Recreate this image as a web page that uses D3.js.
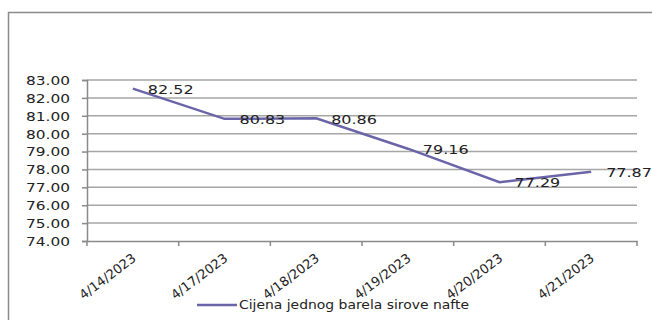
<!DOCTYPE html>
<html>
<head>
<meta charset="utf-8">
<script src="https://cdn.jsdelivr.net/npm/d3@7"></script>
<style>
  body { margin: 0; background: #fff; }
  text { font-family: "DejaVu Sans", sans-serif; fill: #222; }
</style>
</head>
<body>
<div id="chart"></div>
<script>
// data
const dates = ["4/14/2023", "4/17/2023", "4/18/2023", "4/19/2023", "4/20/2023", "4/21/2023"];
const prices = [82.52, 80.83, 80.86, 79.16, 77.29, 77.87];
const yTicks = [74, 75, 76, 77, 78, 79, 80, 81, 82, 83];
const seriesName = "Cijena jednog barela sirove nafte";

const width = 652, height = 320;
const margin = {top: 80, right: 15, bottom: 79, left: 87};
const lineColor = "#6a65a8";
const stretch = 1.28; // the source picture is widened a bit

const svg = d3.select("#chart").append("svg")
    .attr("width", width)
    .attr("height", height);

// outer frame (runs off the right and bottom)
svg.append("rect")
    .attr("x", 8.5).attr("y", 12.5)
    .attr("width", 700).attr("height", 400)
    .attr("fill", "none")
    .attr("stroke", "#8a8a8a")
    .attr("stroke-width", 1.5);

const w = width - margin.left - margin.right,
      h = height - margin.top - margin.bottom;

const g = svg.append("g")
    .attr("transform", `translate(${margin.left},${margin.top})`);

//scales
const x = d3.scaleBand().domain(dates).range([0, w]);
const y = d3.scaleLinear().domain([74, 83]).range([h, 0]);

//gridlines
g.selectAll(".grid")
    .data(yTicks.slice(1))
    .enter()
    .append("line")
    .attr("class", "grid")
    .attr("x1", 0).attr("x2", w)
    .attr("y1", d => y(d)).attr("y2", d => y(d))
    .attr("stroke", "#a6a6a6")
    .attr("stroke-width", 1.5);

// y axis
const yAxis = g.append("g")
    .call(d3.axisLeft(y).tickValues(yTicks).tickSize(5).tickFormat(d3.format(".2f")));
yAxis.select(".domain").attr("stroke", "#8a8a8a").attr("stroke-width", 1.5);
yAxis.selectAll(".tick line").attr("stroke", "#8a8a8a").attr("stroke-width", 1.5);
yAxis.selectAll(".tick text")
    .attr("x", null).attr("dy", null)
    .attr("text-anchor", "end")
    .attr("dominant-baseline", "central")
    .style("font-size", "12px")
    .attr("transform", `translate(-17,0) scale(${stretch},1)`);

// x axis, ticks between categories
const xAxis = g.append("g")
    .attr("transform", `translate(0,${h})`)
    .call(d3.axisBottom(x).tickSize(0).tickFormat(""));
xAxis.select(".domain").attr("stroke", "#8a8a8a").attr("stroke-width", 1.5);

g.selectAll(".xtick")
    .data(dates.concat(["end"]))
    .enter()
    .append("line")
    .attr("class", "xtick")
    .attr("x1", (d, i) => i * x.step()).attr("x2", (d, i) => i * x.step())
    .attr("y1", h).attr("y2", h + 5)
    .attr("stroke", "#8a8a8a")
    .attr("stroke-width", 1.5);

g.selectAll(".xlabel")
    .data(dates)
    .enter()
    .append("text")
    .attr("class", "xlabel")
    .attr("text-anchor", "end")
    .style("font-size", "13px")
    .attr("transform", d => `translate(${x(d) + x.bandwidth() / 2 + 4},${h + 19}) rotate(-37)`)
    .text(d => d);

// line
const cx = (d, i) => x(dates[i]) + x.bandwidth() / 2;
const line = d3.line()
    .x(cx)
    .y(d => y(d));

g.append("path")
    .datum(prices)
    .attr("fill", "none")
    .attr("stroke", lineColor)
    .attr("stroke-width", 2.5)
    .attr("d", line);

// data labels
g.selectAll(".dlabel")
    .data(prices)
    .enter()
    .append("text")
    .attr("class", "dlabel")
    .attr("dominant-baseline", "central")
    .style("font-size", "12.5px")
    .attr("transform", (d, i) => `translate(${cx(d, i) + 15},${y(d) + 1}) scale(${stretch},1)`)
    .text(d => d3.format(".2f")(d));

// legend
const legend = svg.append("g")
    .attr("transform", "translate(197,305)");
legend.append("line")
    .attr("x1", 0).attr("x2", 40)
    .attr("stroke", lineColor)
    .attr("stroke-width", 2.5);
legend.append("text")
    .attr("dominant-baseline", "central")
    .style("font-size", "12px")
    .attr("transform", "translate(42,0) scale(1.16,1)")
    .text(seriesName);
</script>
</body>
</html>
